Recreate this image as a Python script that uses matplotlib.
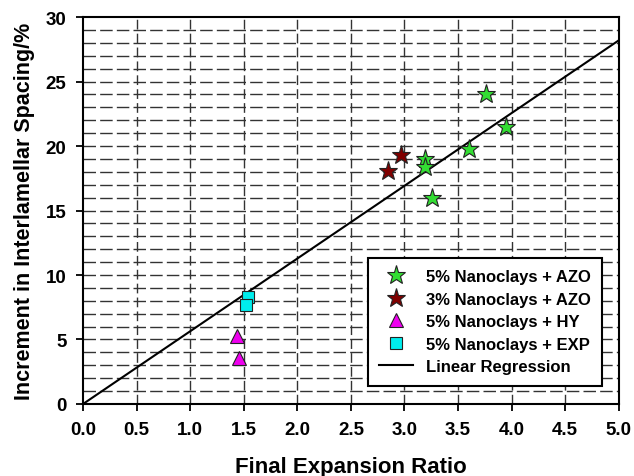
import numpy as np
import matplotlib.pyplot as plt

# data
azo5_x = [3.76, 3.95, 3.60, 3.19, 3.19, 3.26]
azo5_y = [24.0, 21.5, 19.8, 19.0, 18.4, 16.0]
azo3_x = [2.85, 2.97]
azo3_y = [18.1, 19.3]
hy_x = [1.44, 1.46]
hy_y = [5.3, 3.6]
exp_x = [1.54, 1.52]
exp_y = [8.3, 7.7]
reg_x = [0.0, 5.0]
reg_y = [0.0, 28.2]

plt.rcParams['font.family'] = ['Liberation Sans', 'DejaVu Sans']
plt.rcParams['font.weight'] = 'bold'

fig = plt.figure(figsize=(6.34, 4.77), dpi=100)
ax = fig.add_axes([0.131, 0.151, 0.845, 0.811])

# grid
for yy in np.arange(1, 30, 1):
    ax.axhline(yy, color='#333333', lw=1.0, ls=(0, (9, 3)), zorder=0)
for xx in np.arange(0.5, 5.0, 0.5):
    ax.axvline(xx, color='#333333', lw=1.0, ls=(0, (7, 3)), zorder=0)

ax.plot(reg_x, reg_y, color='black', lw=1.5, label='Linear Regression', zorder=2)
ax.plot(azo5_x, azo5_y, ls='none', marker='*', markersize=14, markerfacecolor='#33dd33',
        markeredgecolor='#222222', markeredgewidth=0.8, label='5% Nanoclays + AZO', zorder=3)
ax.plot(azo3_x, azo3_y, ls='none', marker='*', markersize=14, markerfacecolor='#800000',
        markeredgecolor='#222222', markeredgewidth=0.8, label='3% Nanoclays + AZO', zorder=3)
ax.plot(hy_x, hy_y, ls='none', marker='^', markersize=10, markerfacecolor='#ee00ee',
        markeredgecolor='#222222', markeredgewidth=0.8, label='5% Nanoclays + HY', zorder=3)
ax.plot(exp_x, exp_y, ls='none', marker='s', markersize=9, markerfacecolor='#00eeee',
        markeredgecolor='#222222', markeredgewidth=0.8, label='5% Nanoclays + EXP', zorder=3)

ax.set_xlim(0, 5)
ax.set_ylim(0, 30)
ax.set_xticks(np.arange(0, 5.01, 0.5))
ax.set_yticks(np.arange(0, 31, 5))
ax.tick_params(direction='out', length=5, width=1.3, labelsize=13.5, pad=7)
for s in ax.spines.values():
    s.set_linewidth(1.5)

ax.set_xlabel('Final Expansion Ratio', fontsize=16, fontweight='bold', labelpad=13)
ax.set_ylabel('Increment in Interlamellar Spacing/%', fontsize=15.5, fontweight='bold', labelpad=8)

handles, labels = ax.get_legend_handles_labels()
order = [1, 2, 3, 4, 0]
lgd = ax.legend([handles[i] for i in order], [labels[i] for i in order],
                loc='lower right', bbox_to_anchor=(0.985, 0.025), fontsize=12,
                fancybox=False, edgecolor='black', framealpha=1, borderpad=0.7,
                handlelength=2.0, labelspacing=0.45)
lgd.get_frame().set_linewidth(1.5)

plt.savefig('out.png', dpi=100)
